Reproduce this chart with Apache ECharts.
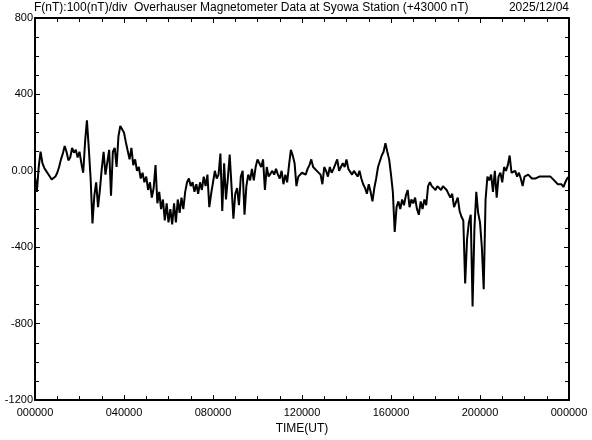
<!DOCTYPE html>
<html>
<head>
<meta charset="utf-8">
<script src="https://cdn.jsdelivr.net/npm/echarts@6/dist/echarts.min.js"></script>
<style>
  html, body { margin: 0; padding: 0; background: #fff; }
  #chart { width: 592px; height: 440px; }
</style>
</head>
<body>
<div id="chart"></div>
<script>
// F (nT, offset from 43000) sampled every 5 minutes, 00:00 -> 24:00
const stepMin = 5;
const fValues = [
  -30, -110, 20, 100, 40, 15, 0, -15, -30, -45,
  -55, -30, -10, 20, 60, 90, 130, 100, 55, 70,
  120, 95, 110, 70, 100, 40, -10, 150, 265, 120,
  -40, -275, -130, -60, -190, -100, 10, 100, -20, -10,
  110, -130, 100, 120, 20, 180, 235, 245, 200, 150,
  140, 60, 120, 30, 60, 0, 20, -40, -10, -60,
  -30, -100, -60, -140, -90, 30, -170, -110, -200, -150,
  -260, -170, -270, -200, -280, -170, -270, -150, -220, -140,
  -200, -110, -60, -40, -80, -60, -110, -70, -120, -60,
  -100, -30, -80, -20, -190, -120, -60, 0, -40, -20,
  90, -210, 40, -150, -40, 85, 80, -250, -120, -90,
  -180, -30, 0, -230, -80, -20, -50, 10, -50, 20,
  60, 40, 20, 60, -100, 20, -30, -30, 0, -20,
  10, -20, -40, 0, -70, -20, -60, 30, 110, 80,
  40, -80, -30, -30, -10, 0, -20, 10, 30, 60,
  20, 30, 0, 10, -20, -70, 20, 0, -30, 20,
  -10, 10, 20, 60, 0, 20, 40, 20, 60, 10,
  0, -20, 0, -10, -30, 0, -40, -70, -90, -120,
  -70, -110, -160, -90, -40, 20, 50, 80, 100, 145,
  100, 60, -20, -110, -320, -190, -160, -200, -150, -180,
  -130, -100, -190, -150, -170, -140, -200, -230, -160, -200,
  -150, -180, -80, -60, -80, -70, -100, -80, -70, -100,
  -80, -70, -100, -110, -140, -120, -190, -200, -140, -210,
  -240, -260, -590, -360, -270, -230, -710, -300, -110, -220,
  -270, -400, -620, -150, -30, -50, -20, -110, 0, -140,
  -30, -10, -60, 20, 0, 30, 80, -10, -20, 0,
  -30, -10, -40, -80, -30, -40, -20, -30, -40, -30,
  -40, -50, -30, -20, -30, -40, -30, -20, -30, -40,
  -50, -60, -70, -80, -70, -85, -60, -40, -30
];
const xTicks = [0, 4, 8, 12, 16, 20, 24];   // hours
const yTicks = [-1200, -800, -400, 0, 400, 800];

const titleText = "F(nT):100(nT)/div  Overhauser Magnetometer Data at Syowa Station (+43000 nT)";
const dateText = "2025/12/04";

const chart = echarts.init(document.getElementById("chart"));

const lineData = fValues.map((v, i) => [i * stepMin / 60, v]);

const font = "Liberation Sans";

// shared look for the box axes
const tickStyle = { lineStyle: { color: "#000", width: 1 } };
function xAx(pos, labels) {
  return {
    type: "value",
    position: pos,
    min: xTicks[0],
    max: xTicks[xTicks.length - 1],
    interval: 4,
    axisLine: { onZero: false, lineStyle: { color: "#000", width: 2 } },
    axisTick: Object.assign({ inside: true, length: 5 }, tickStyle),
    minorTick: Object.assign({ show: true, splitNumber: 4, length: 4 }, tickStyle),
    splitLine: { show: false },
    axisLabel: {
      show: labels,
      color: "#000",
      fontFamily: font,
      fontSize: 11,
      margin: 7,
      formatter: (h) => {
        const hh = h % 24;
        return (hh < 10 ? "0" : "") + hh + "0000";
      },
    },
    name: labels ? "TIME(UT)" : "",
    nameLocation: "middle",
    nameGap: 22,
    nameTextStyle: { color: "#000", fontFamily: font, fontSize: 12 },
  };
}
function yAx(pos, labels) {
  return {
    type: "value",
    position: pos,
    min: yTicks[0],
    max: yTicks[yTicks.length - 1],
    interval: 400,
    axisLine: { onZero: false, lineStyle: { color: "#000", width: 2 } },
    axisTick: Object.assign({ inside: true, length: 5 }, tickStyle),
    minorTick: Object.assign({ show: true, splitNumber: 4, length: 4 }, tickStyle),
    splitLine: { show: false },
    axisLabel: {
      show: labels,
      color: "#000",
      fontFamily: font,
      fontSize: 11,
      margin: 2,
      formatter: (v) => (v === 0 ? "0.00" : String(v)),
    },
  };
}

chart.setOption({
  animation: false,
  backgroundColor: "#fff",
  title: [
    {
      text: titleText,
      left: 34,
      top: 2,
      padding: 0,
      textStyle: { color: "#000", fontFamily: font, fontSize: 12, fontWeight: "normal" },
    },
    {
      text: dateText,
      right: 23,
      top: 2,
      padding: 0,
      textStyle: { color: "#000", fontFamily: font, fontSize: 12, fontWeight: "normal" },
    },
  ],
  grid: { left: 35, right: 23, top: 18, bottom: 33 },
  xAxis: [xAx("bottom", true), xAx("top", false)],
  yAxis: [yAx("left", true), yAx("right", false)],
  series: [
    {
      type: "line",
      data: lineData,
      showSymbol: false,
      lineStyle: { color: "#000", width: 2 },
    },
  ],
});
</script>
</body>
</html>
